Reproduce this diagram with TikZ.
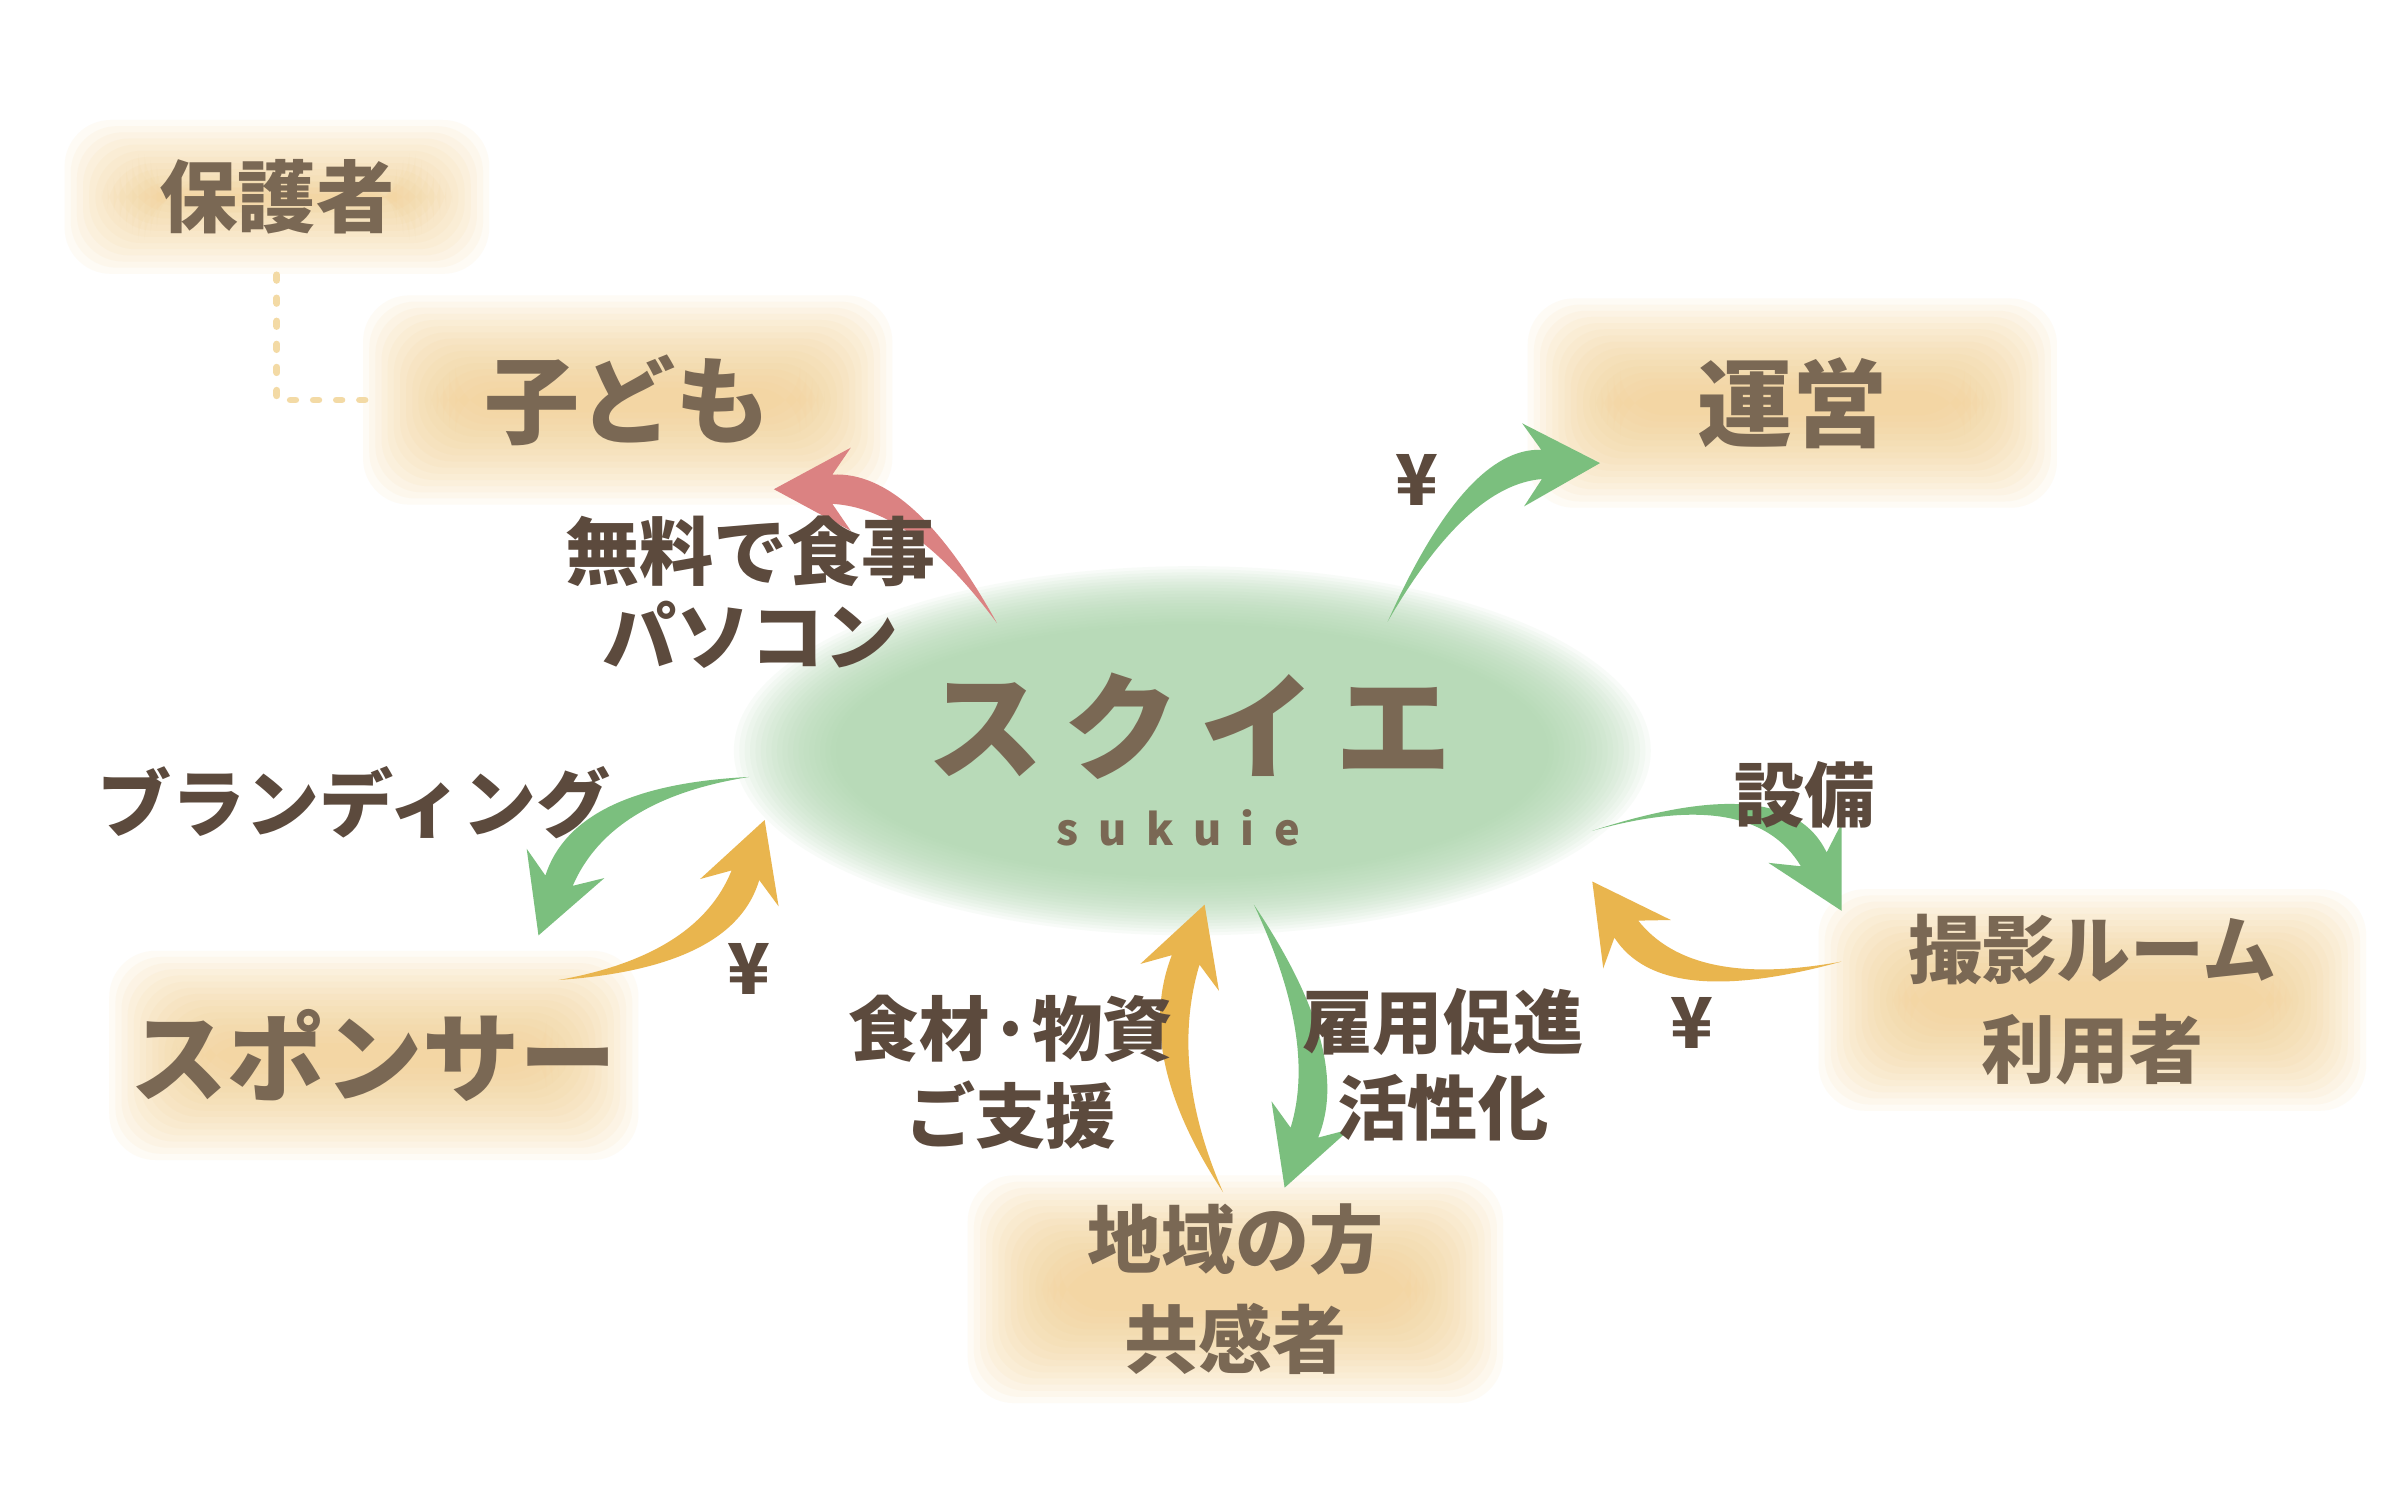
\documentclass[tikz,border=0pt]{standalone}
\usepackage{fontspec}
\setmainfont{Noto Sans CJK JP}
\usetikzlibrary{calc,backgrounds}
\definecolor{bark}{HTML}{7A6854}
\definecolor{ink}{HTML}{5C4A3D}
\definecolor{sand}{HTML}{F3CD89}
\definecolor{moss}{HTML}{ADD8AD}
\definecolor{leaf}{HTML}{7BBF7E}
\definecolor{honey}{HTML}{E9B54E}
\definecolor{rose}{HTML}{DB8282}
\definecolor{straw}{HTML}{F3DAA5}
\newcommand{\sweep}[4]{% colour, tail, bend, tip
	\path (#4) coordinate (sw-t) ($(#4)!0.38cm!(#3)$) coordinate (sw-b) ($(#4)!0.5cm!(#3)$) coordinate (sw-w)
		($(sw-b)!0.095cm!90:(sw-t)$) coordinate (sw-b1) ($(sw-b)!0.095cm!-90:(sw-t)$) coordinate (sw-b2)
		($(sw-w)!0.27cm!90:(sw-t)$) coordinate (sw-w1) ($(sw-w)!0.27cm!-90:(sw-t)$) coordinate (sw-w2)
		($(#3)+1.3*(sw-b1)-1.3*(sw-b)$) coordinate (sw-c1) ($(#3)+1.3*(sw-b2)-1.3*(sw-b)$) coordinate (sw-c2);
	\fill[#1] (#2) .. controls ($(#2)!0.667!(sw-c1)$) and ($(sw-b1)!0.667!(sw-c1)$) .. (sw-b1) -- (sw-w1) -- (sw-t)
		-- (sw-w2) -- (sw-b2) .. controls ($(sw-b2)!0.667!(sw-c2)$) and ($(#2)!0.667!(sw-c2)$) .. (#2) -- cycle;
}
\begin{document}
\begin{tikzpicture}[x=1cm,y=1cm,
		party/.style={text=bark,font=\bfseries\fontsize{17.6}{20}\selectfont},
		member/.style={text=bark,align=center,font=\bfseries\fontsize{13.7}{18.5}\selectfont},
		note/.style={text=ink,align=center,font=\bfseries\fontsize{13}{16}\selectfont},
		tie/.style={straw,line width=0.045cm,line cap=round,dash pattern=on 0.035cm off 0.115cm}]
	\useasboundingbox (0,0) rectangle (15.6,9.75);
	\node[member,font=\bfseries\fontsize{14.5}{17}\selectfont] (hogosha) at (1.80,8.47) {保護者};
	\node[party] (kodomo) at (4.08,7.15) {子ども};
	\node[party] (unei) at (11.65,7.13) {運営};
	\node[party,font=\bfseries\fontsize{18}{20}\selectfont] (sponsor) at (2.43,2.89) {スポンサー};
	\node[member] (riyosha) at (13.60,3.25) {撮影ルーム\\利用者};
	\node[member] (chiiki) at (8.03,1.37) {地域の方\\共感者};
	\node[text=bark,font=\bfseries\fontsize{21.5}{24}\selectfont] (sukuie) at (7.73,5.03) {ス\kern.17em ク\kern.17em イ\kern.17em エ};
	\node[text=bark,font=\bfseries\fontsize{8}{10}\selectfont] (roman) at (7.66,4.37) {s\kern.45em u\kern.45em k\kern.45em u\kern.45em i\kern.45em e};
	\begin{scope}[on background layer]
		\fill[white] (0,0) rectangle (15.6,9.75);
		\foreach \k in {0,...,19}
			\fill[moss,opacity=0.08] (7.75,4.87) ellipse ({2.98-\k*0.035} and {1.2-\k*0.02});
		\foreach \nd/\w/\h in {hogosha/1.38/0.50,kodomo/1.72/0.68,unei/1.72/0.68,sponsor/1.72/0.68,riyosha/1.78/0.72,chiiki/1.74/0.74}
			\foreach \k in {0,...,15}
				\fill[sand,opacity=0.08,rounded corners=3mm] ($(\nd)+(-\w+\k*0.04,-\h+\k*0.04)$) rectangle ($(\nd)+(\w-\k*0.04,\h-\k*0.04)$);
	\end{scope}
	\draw[tie,shorten <=0.14cm,shorten >=0.6cm] (hogosha.south) |- (kodomo.west);
	\coordinate (fTail) at (6.48,5.70); \coordinate (fBend) at (5.93,6.57); \coordinate (fTip) at (5.03,6.57);
	\coordinate (uTail) at (9.02,5.71); \coordinate (uBend) at (9.53,6.72); \coordinate (uTip) at (10.40,6.74);
	\coordinate (eTail) at (10.35,4.35); \coordinate (eBend) at (11.50,4.70); \coordinate (eTip) at (11.97,3.83);
	\coordinate (pTail) at (11.97,3.50); \coordinate (pBend) at (10.90,3.25); \coordinate (pTip) at (10.35,4.02);
	\coordinate (bTail) at (4.87,4.70); \coordinate (bBend) at (3.85,4.60); \coordinate (bTip) at (3.50,3.67);
	\coordinate (sTail) at (3.63,3.38); \coordinate (sBend) at (4.65,3.50); \coordinate (sTip) at (4.97,4.42);
	\coordinate (gTail) at (7.95,2.00); \coordinate (gBend) at (7.48,2.85); \coordinate (gTip) at (7.83,3.87);
	\coordinate (kTail) at (8.15,3.87); \coordinate (kBend) at (8.68,2.95); \coordinate (kTip) at (8.35,2.03);
	\sweep{rose}{fTail}{fBend}{fTip}
	\sweep{leaf}{uTail}{uBend}{uTip}
	\sweep{leaf}{eTail}{eBend}{eTip}
	\sweep{honey}{pTail}{pBend}{pTip}
	\sweep{leaf}{bTail}{bBend}{bTip}
	\sweep{honey}{sTail}{sBend}{sTip}
	\sweep{honey}{gTail}{gBend}{gTip}
	\sweep{leaf}{kTail}{kBend}{kTip}
	\node[note,font=\bfseries\fontsize{13.7}{15.6}\selectfont] (free) at (4.88,5.90) {無料で食事\\パソコン};
	\node[note] (yenU) at (9.21,6.63) {¥};
	\node[note] (setsubi) at (11.73,4.58) {設備};
	\node[note] (yenP) at (11.00,3.10) {¥};
	\node[note,font=\bfseries\fontsize{13.7}{16}\selectfont] (brand) at (2.30,4.53) {ブランディング};
	\node[note] (yenS) at (4.87,3.45) {¥};
	\node[note] (shien) at (6.57,2.78) {食材·物資\\ご支援};
	\node[note] (koyo) at (9.38,2.83) {雇用促進\\活性化};
\end{tikzpicture}
\end{document}
